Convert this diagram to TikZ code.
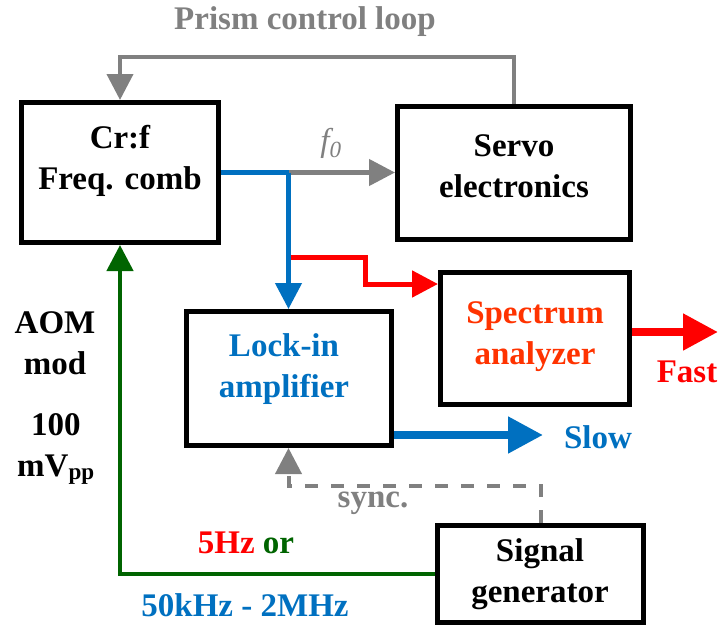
\documentclass[tikz,border=0pt]{standalone}
\usepackage{fontspec}
\setmainfont{Liberation Serif}
\usetikzlibrary{arrows.meta}
\definecolor{cgray}{RGB}{128,128,128}
\definecolor{cblue}{RGB}{0,112,192}
\definecolor{cred}{RGB}{255,0,0}
\definecolor{corange}{RGB}{255,51,0}
\definecolor{cgreen}{RGB}{0,100,0}
\begin{document}
\begin{tikzpicture}[x=1pt,y=-1pt,
  box/.style={draw=black,line width=5pt,inner sep=0pt},
  lbl/.style={font=\fontsize{33}{41}\selectfont\bfseries,inner sep=0pt,align=center},
  arrtip/.style={-{Triangle[length=26pt,width=26pt]}},
  bigtip/.style={-{Triangle[length=35pt,width=35pt]}},
  conn/.style={line width=4.5pt}]
\useasboundingbox (0,0) rectangle (718,627);
% boxes
\node[box,minimum width=197pt,minimum height=140pt] (comb) at (120,172.5) {};
\node[box,minimum width=233pt,minimum height=133pt] (servo) at (514,172.5) {};
\node[box,minimum width=189pt,minimum height=132pt] (spec) at (535,338.5) {};
\node[box,minimum width=205pt,minimum height=134pt] (lock) at (288.5,378.5) {};
\node[box,minimum width=206pt,minimum height=97pt] (gen) at (540.5,574) {};
% box texts
\node[lbl] (combtxt) at (120,161) {Cr:f\\Freq. comb};
\node[lbl] (servotxt) at (514,166) {Servo\\electronics};
\node[lbl,text=corange] (spectxt) at (535,337) {Spectrum\\analyzer};
\node[lbl,text=cblue] (locktxt) at (284,369) {Lock-in\\amplifier};
\node[lbl] (gentxt) at (540,574) {Signal\\generator};
% coordinates
\coordinate (looptop) at (0,57);
\coordinate (split) at (288.5,172.5);
\coordinate (redA) at (290,257);
\coordinate (redB) at (365,284);
\coordinate (slowend) at (543,435);
\coordinate (fastend) at (718,332);
\coordinate (syncy) at (0,486);
% connectors
\draw[cgray,line width=4pt,arrtip] (servo.north) -- (servo.north |- looptop) -| (comb.north);
\draw[cgray,conn,arrtip] (split) -- (servo.west |- split);
\draw[cred,line width=5pt,arrtip] (redA) -| (redB) -- (spec.west |- redB);
\draw[cblue,conn] (comb.east |- split) -- (split);
\draw[cblue,conn,arrtip] (split) -- (lock.north);
\draw[cblue,line width=8pt,bigtip] (lock.east |- slowend) -- (slowend);
\draw[cred,line width=8pt,bigtip] (spec.east |- fastend) -- (fastend);
\draw[cgreen,conn,arrtip] (gen.west) -| (comb.south);
\draw[cgray,line width=4pt,dash pattern=on 13pt off 13pt,arrtip] (gen.north) -- (gen.north |- syncy) -| (lock.south);
% labels
\node[lbl,text=cgray] (prism) at (305,22) {Prism control loop};
\node[lbl,text=cgray,font=\fontsize{33}{41}\selectfont\mdseries\itshape] (f0) at (331,143) {f\textsubscript{0}};
\node[lbl] (aom) at (55,343) {AOM\\mod};
\node[lbl] (amp) at (56,449) {100\\mV\textsubscript{pp}};
\node[lbl,text=cblue] (slow) at (598,437) {Slow};
\node[lbl,text=cred] (fast) at (687,372) {Fast};
\node[lbl,text=cgray] (sync) at (373,503) {sync.};
\node[lbl] (freq1) at (246,543) {\textcolor{cred}{5Hz} \textcolor{cgreen}{or}};
\node[lbl,text=cblue] (freq2) at (245,605) {50kHz - 2MHz};
\end{tikzpicture}
\end{document}
